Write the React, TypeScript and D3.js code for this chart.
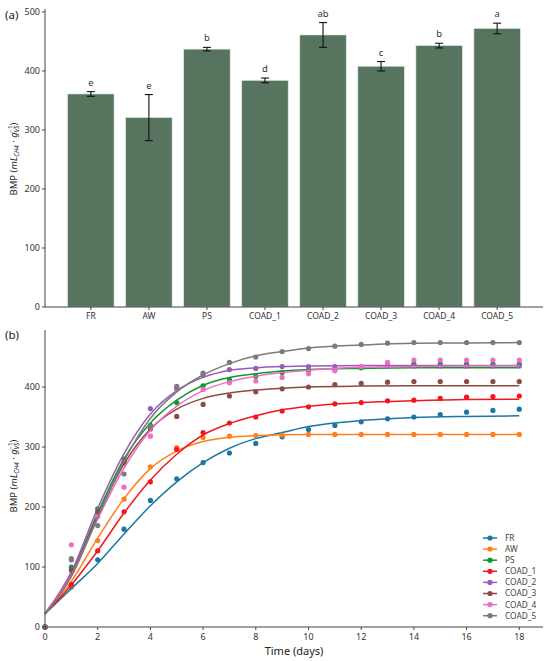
import React from 'react';
import * as d3 from 'd3';

// panel (a): final BMP per substrate
const categories = ['FR', 'AW', 'PS', 'COAD_1', 'COAD_2', 'COAD_3', 'COAD_4', 'COAD_5'];
const bmpMean = [361, 321, 437, 384, 461, 408, 443, 472];
const bmpErr = [4, 39, 3, 4, 21, 8, 4, 9];
const groupLetters = ['e', 'e', 'b', 'd', 'ab', 'c', 'b', 'a'];
const barTicks = [0, 100, 200, 300, 400, 500];

// panel (b): cumulative production, measured points
const days = [0, 1, 2, 3, 4, 5, 6, 7, 8, 9, 10, 11, 12, 13, 14, 15, 16, 17, 18];
const ptsFR = [0, 67, 112, 163, 211, 247, 274, 290, 306, 317, 329, 336, 342, 347, 350, 354, 358, 361, 363];
const ptsAW = [0, 70, 144, 213, 267, 299, 316, 318, 319, 320, 321, 321, 321, 321, 321, 321, 321, 321, 321];
const ptsPS = [0, 100, 197, 280, 336, 374, 402, 412, 418, 424, 428, 429, 432, 435, 438, 438, 438, 438, 438];
const ptsC1 = [0, 71, 127, 192, 242, 296, 324, 340, 350, 360, 367, 372, 374, 377, 378, 381, 383, 384, 385];
const ptsC2 = [0, 112, 190, 275, 364, 401, 420, 429, 431, 434, 434, 434, 434, 435, 435, 435, 435, 435, 435];
const ptsC3 = [0, 95, 192, 273, 330, 351, 371, 385, 392, 397, 400, 404, 406, 408, 409, 409, 409, 409, 409];
const ptsC4 = [0, 137, 184, 233, 318, 396, 396, 407, 410, 416, 422, 427, 434, 441, 445, 445, 445, 445, 445];
const ptsC5 = [0, 114, 169, 255, 334, 398, 423, 441, 450, 459, 464, 468, 471, 473, 474, 474, 474, 474, 474];

// fitted curves
const fitDays = [0, 1, 2, 3, 4, 5, 6, 7, 8, 9, 10, 12, 14, 16, 18];
const fitFR = [22, 64, 106, 155, 202, 242, 274, 298, 314, 324, 334, 344, 349, 351, 352];
const fitAW = [22, 76, 148, 214, 264, 293, 309, 316, 319, 320.5, 321, 321, 321, 321, 321];
const fitPS = [22, 88, 190, 280, 340, 378, 403, 416, 422, 426.5, 429, 431, 432, 432, 432];
const fitC1 = [22, 70, 127, 190, 245, 288, 320, 339, 352, 362, 368, 374, 377, 379, 379.5];
const fitC2 = [22, 92, 198, 289, 355, 394, 416, 428, 432, 434, 435, 436, 436, 436, 436];
const fitC3 = [22, 87, 185, 272, 330, 363, 381, 390, 395, 398, 400, 401.5, 402, 402, 402];
const fitC4 = [22, 86, 180, 265, 328, 368, 394, 409, 418, 424, 428, 433, 434, 435, 435];
const fitC5 = [22, 84, 183, 277, 348, 392, 420, 439, 452, 459, 465, 470, 473, 473.5, 474];

const seriesNames = ['FR', 'AW', 'PS', 'COAD_1', 'COAD_2', 'COAD_3', 'COAD_4', 'COAD_5'];
const seriesColors = ['#1b76a4', '#ff7f1c', '#0e9a2c', '#f3161e', '#9a5bbd', '#8c4a44', '#f06cc6', '#7b7b7b'];
const seriesPts = [ptsFR, ptsAW, ptsPS, ptsC1, ptsC2, ptsC3, ptsC4, ptsC5];
const seriesFit = [fitFR, fitAW, fitPS, fitC1, fitC2, fitC3, fitC4, fitC5];
const dayTicks = [0, 2, 4, 6, 8, 10, 12, 14, 16, 18];
const bmpTicks = [0, 100, 200, 300, 400];

const W = 550;
const H = 661;
const FONT = "'Noto Sans', 'DejaVu Sans', sans-serif";
const AXIS = '#444';
const BAR = '#57745f';

const YLabel = ({ x, y }: { x: number; y: number }) => (
  <text transform={`translate(${x},${y}) rotate(-90)`} textAnchor="middle" fontSize={9.5} fill="#222">
    BMP (<tspan fontStyle="italic">mL</tspan>
    <tspan fontStyle="italic" fontSize={6.3} dy={2}>CH4</tspan>
    <tspan dy={-2}> · </tspan>
    <tspan fontStyle="italic">g</tspan>
    <tspan fontStyle="italic" fontSize={6.3} dy={2}>VS</tspan>
    <tspan fontSize={6.3} dx={-7} dy={-6}>−1</tspan>
    <tspan dy={4}>)</tspan>
  </text>
);

export default function App() {
  // ---- panel (a)
  const aLeft = 45, aRight = 543, aTop = 9, aBottom = 307;
  const xa = d3.scaleBand<string>().domain(categories).range([aLeft, aRight]).paddingInner(0.2).paddingOuter(0.39);
  const ya = d3.scaleLinear().domain([0, 505]).range([aBottom, aTop]);

  // ---- panel (b)
  const bLeft = 45, bRight = 543, bTop = 330, bBottom = 627;
  const xb = d3.scaleLinear().domain([0, 18.9]).range([bLeft, bRight]);
  const yb = d3.scaleLinear().domain([0, 495]).range([bBottom, bTop]);
  const line = d3.line<[number, number]>()
    .x(d => xb(d[0]))
    .y(d => yb(d[1]))
    .curve(d3.curveMonotoneX);

  const legX = 483, legY = 538, legStep = 11.1;

  return (
    <div style={{ position: 'fixed', left: 0, top: 0 }}>
      <svg width={W} height={H} fontFamily={FONT} style={{ display: 'block', background: '#fff' }}>
        {/* panel (a) */}
        <text x={5} y={19} fontSize={11.5} fill="#222">(a)</text>
        {categories.map((c, i) => {
          const x0 = xa(c) || 0;
          const cx = x0 + xa.bandwidth() / 2;
          const top = ya(bmpMean[i] + bmpErr[i]);
          const bot = ya(bmpMean[i] - bmpErr[i]);
          return (
            <g key={c}>
              <rect x={x0} y={ya(bmpMean[i])} width={xa.bandwidth()} height={aBottom - ya(bmpMean[i])}
                fill={BAR} stroke="#dfe6e1" strokeWidth={0.6} />
              <line x1={cx} x2={cx} y1={top} y2={bot} stroke="#111" strokeWidth={1.1} />
              <line x1={cx - 4} x2={cx + 4} y1={top} y2={top} stroke="#111" strokeWidth={1.1} />
              <line x1={cx - 4} x2={cx + 4} y1={bot} y2={bot} stroke="#111" strokeWidth={1.1} />
              <text x={cx} y={top - 6} textAnchor="middle" fontSize={9.5} fill="#333">{groupLetters[i]}</text>
              <line x1={cx} x2={cx} y1={aBottom} y2={aBottom + 3} stroke={AXIS} />
              <text x={cx} y={aBottom + 12} textAnchor="middle" fontSize={8.5} fill="#333">{c}</text>
            </g>
          );
        })}
        <line x1={aLeft} x2={aLeft} y1={aTop} y2={aBottom} stroke={AXIS} />
        <line x1={aLeft} x2={aRight} y1={aBottom} y2={aBottom} stroke={AXIS} />
        {barTicks.map(t => (
          <g key={t}>
            <line x1={aLeft - 3} x2={aLeft} y1={ya(t)} y2={ya(t)} stroke={AXIS} />
            <text x={aLeft - 5} y={ya(t)} dy="0.35em" textAnchor="end" fontSize={9} fill="#333">{t}</text>
          </g>
        ))}
        <YLabel x={17} y={159} />

        {/* panel (b) */}
        <text x={5} y={339} fontSize={11.5} fill="#222">(b)</text>
        {seriesNames.map((n, s) => (
          <g key={n}>
            {days.map((d, i) => (
              <circle key={d} cx={xb(d)} cy={yb(seriesPts[s][i])} r={2.6} fill={seriesColors[s]} />
            ))}
            <path
              d={line(fitDays.map((d, i) => [d, seriesFit[s][i]] as [number, number])) || ''}
              fill="none"
              stroke={seriesColors[s]}
              strokeWidth={1.5}
            />
          </g>
        ))}
        <line x1={bLeft} x2={bLeft} y1={bTop} y2={bBottom} stroke={AXIS} />
        <line x1={bLeft} x2={bRight} y1={bBottom} y2={bBottom} stroke={AXIS} />
        {bmpTicks.map(t => (
          <g key={t}>
            <line x1={bLeft - 3} x2={bLeft} y1={yb(t)} y2={yb(t)} stroke={AXIS} />
            <text x={bLeft - 5} y={yb(t)} dy="0.35em" textAnchor="end" fontSize={9} fill="#333">{t}</text>
          </g>
        ))}
        {dayTicks.map(t => (
          <g key={t}>
            <line x1={xb(t)} x2={xb(t)} y1={bBottom} y2={bBottom + 3} stroke={AXIS} />
            <text x={xb(t)} y={bBottom + 13} textAnchor="middle" fontSize={9} fill="#333">{t}</text>
          </g>
        ))}
        <text x={(bLeft + bRight) / 2} y={655} textAnchor="middle" fontSize={11} fill="#222">Time (days)</text>
        <YLabel x={17} y={476} />

        {/* legend */}
        {seriesNames.map((n, s) => {
          const ly = legY + s * legStep;
          return (
            <g key={n}>
              <line x1={legX} x2={legX + 14} y1={ly} y2={ly} stroke={seriesColors[s]} strokeWidth={1.5} />
              <circle cx={legX + 7} cy={ly} r={2.6} fill={seriesColors[s]} />
              <text x={legX + 22} y={ly} dy="0.35em" fontSize={8.3} fill="#444">{n}</text>
            </g>
          );
        })}
      </svg>
    </div>
  );
}
